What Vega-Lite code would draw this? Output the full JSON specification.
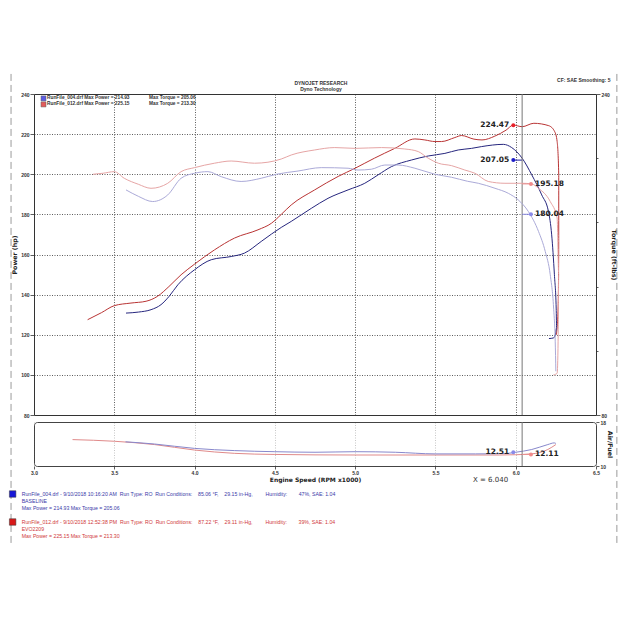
{
  "$schema": "https://vega.github.io/schema/vega-lite/v6.json",
  "background": "white",
  "padding": {"left": 8, "top": 72, "right": 5, "bottom": 5},
  "config": {
    "font": "DejaVu Sans",
    "view": {"stroke": "#333", "strokeWidth": 1},
    "axis": {
      "labelFont": "Liberation Sans", "labelFontSize": 5, "labelFontWeight": "bold", "labelColor": "#333", "labelOverlap": false,
      "titleFont": "DejaVu Sans", "titleFontSize": 6.3, "titleFontWeight": "bold", "titleColor": "#222",
      "tickColor": "#333", "tickWidth": 0.8, "domain": false,
      "gridColor": "#333", "gridDash": [1, 1.5], "gridWidth": 0.8
    }
  },
  "datasets": {
    "power": [
      {"run":"012","i":1,"rpm":3.334,"hp":127.5},{"run":"012","i":2,"rpm":3.42,"hp":131.0},{"run":"012","i":3,"rpm":3.5,"hp":134.5},
      {"run":"012","i":4,"rpm":3.604,"hp":135.8},{"run":"012","i":5,"rpm":3.698,"hp":136.7},{"run":"012","i":6,"rpm":3.77,"hp":139.2},
      {"run":"012","i":7,"rpm":3.84,"hp":144.0},{"run":"012","i":8,"rpm":3.916,"hp":149.9},{"run":"012","i":9,"rpm":4.0,"hp":155.2},
      {"run":"012","i":10,"rpm":4.124,"hp":162.3},{"run":"012","i":11,"rpm":4.249,"hp":168.2},{"run":"012","i":12,"rpm":4.395,"hp":172.3},
      {"run":"012","i":13,"rpm":4.479,"hp":175.6},{"run":"012","i":14,"rpm":4.54,"hp":180.0},{"run":"012","i":15,"rpm":4.602,"hp":184.7},
      {"run":"012","i":16,"rpm":4.748,"hp":192.2},{"run":"012","i":17,"rpm":4.894,"hp":198.9},{"run":"012","i":18,"rpm":5.0,"hp":203.0},
      {"run":"012","i":19,"rpm":5.12,"hp":208.0},{"run":"012","i":20,"rpm":5.247,"hp":212.9},{"run":"012","i":21,"rpm":5.372,"hp":217.6},
      {"run":"012","i":22,"rpm":5.434,"hp":217.1},{"run":"012","i":23,"rpm":5.497,"hp":216.3},{"run":"012","i":24,"rpm":5.538,"hp":216.3},
      {"run":"012","i":25,"rpm":5.621,"hp":218.3},{"run":"012","i":26,"rpm":5.663,"hp":219.3},{"run":"012","i":27,"rpm":5.74,"hp":217.5},
      {"run":"012","i":28,"rpm":5.79,"hp":217.1},{"run":"012","i":29,"rpm":5.87,"hp":219.0},{"run":"012","i":30,"rpm":5.94,"hp":222.0},
      {"run":"012","i":31,"rpm":5.985,"hp":224.5},{"run":"012","i":32,"rpm":6.04,"hp":223.7},{"run":"012","i":33,"rpm":6.113,"hp":225.4},
      {"run":"012","i":34,"rpm":6.206,"hp":224.2},{"run":"012","i":35,"rpm":6.243,"hp":221.2},{"run":"012","i":36,"rpm":6.258,"hp":216.3},
      {"run":"012","i":37,"rpm":6.268,"hp":199.7},{"run":"012","i":38,"rpm":6.268,"hp":166.5},{"run":"012","i":39,"rpm":6.264,"hp":133.3},
      {"run":"012","i":40,"rpm":6.253,"hp":120.0},
      {"run":"004","i":1,"rpm":3.573,"hp":130.8},{"run":"004","i":2,"rpm":3.65,"hp":131.3},{"run":"004","i":3,"rpm":3.729,"hp":132.5},
      {"run":"004","i":4,"rpm":3.791,"hp":135.0},{"run":"004","i":5,"rpm":3.84,"hp":139.0},{"run":"004","i":6,"rpm":3.896,"hp":144.9},
      {"run":"004","i":7,"rpm":4.0,"hp":152.4},{"run":"004","i":8,"rpm":4.104,"hp":157.4},{"run":"004","i":9,"rpm":4.228,"hp":159.0},
      {"run":"004","i":10,"rpm":4.311,"hp":160.7},{"run":"004","i":11,"rpm":4.415,"hp":166.5},{"run":"004","i":12,"rpm":4.479,"hp":170.2},
      {"run":"004","i":13,"rpm":4.54,"hp":173.5},{"run":"004","i":14,"rpm":4.602,"hp":176.5},{"run":"004","i":15,"rpm":4.727,"hp":183.0},
      {"run":"004","i":16,"rpm":4.831,"hp":188.0},{"run":"004","i":17,"rpm":4.956,"hp":192.2},{"run":"004","i":18,"rpm":5.06,"hp":195.5},
      {"run":"004","i":19,"rpm":5.143,"hp":199.7},{"run":"004","i":20,"rpm":5.226,"hp":203.8},{"run":"004","i":21,"rpm":5.351,"hp":207.1},
      {"run":"004","i":22,"rpm":5.455,"hp":209.1},{"run":"004","i":23,"rpm":5.559,"hp":210.4},{"run":"004","i":24,"rpm":5.642,"hp":212.1},
      {"run":"004","i":25,"rpm":5.725,"hp":212.9},{"run":"004","i":26,"rpm":5.788,"hp":213.8},{"run":"004","i":27,"rpm":5.923,"hp":214.9},
      {"run":"004","i":28,"rpm":5.975,"hp":213.3},{"run":"004","i":29,"rpm":6.04,"hp":208.0},{"run":"004","i":30,"rpm":6.1,"hp":199.7},
      {"run":"004","i":31,"rpm":6.162,"hp":189.7},{"run":"004","i":32,"rpm":6.204,"hp":181.4},{"run":"004","i":33,"rpm":6.224,"hp":169.8},
      {"run":"004","i":34,"rpm":6.241,"hp":149.9},{"run":"004","i":35,"rpm":6.252,"hp":133.3},{"run":"004","i":36,"rpm":6.255,"hp":123.4},
      {"run":"004","i":37,"rpm":6.245,"hp":119.5},{"run":"004","i":38,"rpm":6.235,"hp":118.4},{"run":"004","i":39,"rpm":6.207,"hp":118.1}
    ],
    "torque": [
      {"run":"012","i":1,"rpm":3.367,"tq":200.0},{"run":"012","i":2,"rpm":3.43,"tq":200.5},{"run":"012","i":3,"rpm":3.5,"tq":201.3},
      {"run":"012","i":4,"rpm":3.562,"tq":198.0},{"run":"012","i":5,"rpm":3.65,"tq":195.0},{"run":"012","i":6,"rpm":3.729,"tq":193.0},
      {"run":"012","i":7,"rpm":3.833,"tq":195.5},{"run":"012","i":8,"rpm":3.916,"tq":201.3},{"run":"012","i":9,"rpm":4.0,"tq":203.3},
      {"run":"012","i":10,"rpm":4.124,"tq":205.5},{"run":"012","i":11,"rpm":4.228,"tq":206.6},{"run":"012","i":12,"rpm":4.373,"tq":205.5},
      {"run":"012","i":13,"rpm":4.457,"tq":206.0},{"run":"012","i":14,"rpm":4.54,"tq":207.6},{"run":"012","i":15,"rpm":4.602,"tq":209.6},
      {"run":"012","i":16,"rpm":4.748,"tq":212.1},{"run":"012","i":17,"rpm":4.873,"tq":213.3},{"run":"012","i":18,"rpm":5.0,"tq":212.9},
      {"run":"012","i":19,"rpm":5.164,"tq":213.3},{"run":"012","i":20,"rpm":5.309,"tq":212.6},{"run":"012","i":21,"rpm":5.393,"tq":211.3},
      {"run":"012","i":22,"rpm":5.455,"tq":208.0},{"run":"012","i":23,"rpm":5.518,"tq":205.5},{"run":"012","i":24,"rpm":5.6,"tq":204.3},
      {"run":"012","i":25,"rpm":5.683,"tq":202.1},{"run":"012","i":26,"rpm":5.746,"tq":200.5},{"run":"012","i":27,"rpm":5.829,"tq":196.4},
      {"run":"012","i":28,"rpm":5.933,"tq":195.5},{"run":"012","i":29,"rpm":6.04,"tq":195.5},{"run":"012","i":30,"rpm":6.098,"tq":195.2},
      {"run":"012","i":31,"rpm":6.142,"tq":193.0},{"run":"012","i":32,"rpm":6.215,"tq":186.4},{"run":"012","i":33,"rpm":6.258,"tq":178.1},
      {"run":"012","i":34,"rpm":6.268,"tq":149.9},{"run":"012","i":35,"rpm":6.264,"tq":116.8},{"run":"012","i":36,"rpm":6.258,"tq":100.8},
      {"run":"012","i":37,"rpm":6.235,"tq":100.0},
      {"run":"004","i":1,"rpm":3.573,"tq":192.2},{"run":"004","i":2,"rpm":3.65,"tq":189.0},{"run":"004","i":3,"rpm":3.739,"tq":186.4},
      {"run":"004","i":4,"rpm":3.833,"tq":189.7},{"run":"004","i":5,"rpm":3.916,"tq":198.0},{"run":"004","i":6,"rpm":4.0,"tq":200.5},
      {"run":"004","i":7,"rpm":4.083,"tq":201.3},{"run":"004","i":8,"rpm":4.166,"tq":198.8},{"run":"004","i":9,"rpm":4.29,"tq":196.4},
      {"run":"004","i":10,"rpm":4.415,"tq":198.0},{"run":"004","i":11,"rpm":4.51,"tq":200.0},{"run":"004","i":12,"rpm":4.644,"tq":201.6},
      {"run":"004","i":13,"rpm":4.789,"tq":203.3},{"run":"004","i":14,"rpm":4.956,"tq":203.0},{"run":"004","i":15,"rpm":5.018,"tq":202.1},
      {"run":"004","i":16,"rpm":5.101,"tq":202.5},{"run":"004","i":17,"rpm":5.185,"tq":204.6},{"run":"004","i":18,"rpm":5.268,"tq":204.6},
      {"run":"004","i":19,"rpm":5.372,"tq":203.0},{"run":"004","i":20,"rpm":5.497,"tq":200.0},{"run":"004","i":21,"rpm":5.6,"tq":198.5},
      {"run":"004","i":22,"rpm":5.7,"tq":196.5},{"run":"004","i":23,"rpm":5.767,"tq":195.5},{"run":"004","i":24,"rpm":5.871,"tq":193.0},
      {"run":"004","i":25,"rpm":5.954,"tq":190.5},{"run":"004","i":26,"rpm":6.016,"tq":187.2},{"run":"004","i":27,"rpm":6.079,"tq":181.4},
      {"run":"004","i":28,"rpm":6.142,"tq":171.5},{"run":"004","i":29,"rpm":6.184,"tq":161.5},{"run":"004","i":30,"rpm":6.215,"tq":149.9},
      {"run":"004","i":31,"rpm":6.236,"tq":133.3},{"run":"004","i":32,"rpm":6.246,"tq":116.8},{"run":"004","i":33,"rpm":6.25,"tq":101.8}
    ],
    "afr": [
      {"run":"012","i":1,"rpm":3.24,"afr":14.8},{"run":"012","i":2,"rpm":3.5,"afr":14.5},{"run":"012","i":3,"rpm":3.75,"afr":13.9},
      {"run":"012","i":4,"rpm":4.0,"afr":12.9},{"run":"012","i":5,"rpm":4.25,"afr":12.3},{"run":"012","i":6,"rpm":4.5,"afr":12.1},
      {"run":"012","i":7,"rpm":5.0,"afr":12.0},{"run":"012","i":8,"rpm":5.5,"afr":12.0},{"run":"012","i":9,"rpm":5.9,"afr":12.0},
      {"run":"012","i":10,"rpm":6.0,"afr":12.05},{"run":"012","i":11,"rpm":6.1,"afr":12.2},{"run":"012","i":12,"rpm":6.2,"afr":13.0},
      {"run":"012","i":13,"rpm":6.25,"afr":13.9},
      {"run":"004","i":1,"rpm":3.57,"afr":14.4},{"run":"004","i":2,"rpm":3.75,"afr":14.0},{"run":"004","i":3,"rpm":4.0,"afr":13.2},
      {"run":"004","i":4,"rpm":4.25,"afr":12.8},{"run":"004","i":5,"rpm":4.5,"afr":12.6},{"run":"004","i":6,"rpm":4.75,"afr":12.5},
      {"run":"004","i":7,"rpm":5.0,"afr":12.6},{"run":"004","i":8,"rpm":5.25,"afr":12.5},{"run":"004","i":9,"rpm":5.5,"afr":12.2},
      {"run":"004","i":10,"rpm":5.75,"afr":12.2},{"run":"004","i":11,"rpm":5.95,"afr":12.3},{"run":"004","i":12,"rpm":6.0,"afr":12.5},
      {"run":"004","i":13,"rpm":6.1,"afr":13.0},{"run":"004","i":14,"rpm":6.2,"afr":13.9},{"run":"004","i":15,"rpm":6.24,"afr":14.2},
      {"run":"004","i":16,"rpm":6.25,"afr":14.1}
    ],
    "cursorPower": [{"run":"012","v":224.47},{"run":"004","v":207.05}],
    "cursorTorque": [{"run":"012","v":195.18},{"run":"004","v":180.04}],
    "runs": [
      {"run":"004","power":"RunFile_004.drf Max Power = 214.93","torque":"Max Torque = 205.06"},
      {"run":"012","power":"RunFile_012.drf Max Power = 225.15","torque":"Max Torque = 213.30"}
    ],
    "header": [
      {"line":"title","text":"DYNOJET RESEARCH"},
      {"line":"sub","text":"Dyno Technology"},
      {"line":"cf","text":"CF: SAE Smoothing: 5"}
    ],
    "notes": [
      {"run":"004","line":"b1","text":"RunFile_004.drf - 9/10/2018 10:16:20 AM\u00a0\u00a0Run Type: RO\u00a0\u00a0Run Conditions:\u00a0\u00a0\u00a0\u00a085.06 °F,\u00a0\u00a0\u00a0\u00a029.15 in-Hg,\u00a0\u00a0\u00a0\u00a0\u00a0\u00a0\u00a0\u00a0\u00a0Humidity:\u00a0\u00a0\u00a0\u00a0\u00a0\u00a0\u00a0\u00a047%, SAE: 1.04"},
      {"run":"004","line":"b2","text":"BASELINE"},
      {"run":"004","line":"b3","text":"Max Power = 214.93\u00a0Max Torque = 205.06"},
      {"run":"012","line":"r1","text":"RunFile_012.drf - 9/10/2018 12:52:38 PM\u00a0\u00a0Run Type: RO\u00a0\u00a0Run Conditions:\u00a0\u00a0\u00a0\u00a087.22 °F,\u00a0\u00a0\u00a0\u00a029.11 in-Hg,\u00a0\u00a0\u00a0\u00a0\u00a0\u00a0\u00a0\u00a0\u00a0Humidity:\u00a0\u00a0\u00a0\u00a0\u00a0\u00a0\u00a0\u00a039%, SAE: 1.04"},
      {"run":"012","line":"r2","text":"EVO2209"},
      {"run":"012","line":"r3","text":"Max Power = 225.15\u00a0Max Torque = 213.30"}
    ]
  },
  "bounds": "flush",
  "spacing": 7,
  "resolve": {"scale": {"x": "independent", "y": "independent"}},
  "vconcat": [
    {
      "width": 562,
      "height": 321,
      "resolve": {"scale": {"y": "independent"}, "axis": {"y": "independent"}},
      "layer": [
        {
          "layer": [
            {
              "data": {"name": "power"},
              "mark": {"type": "line", "strokeWidth": 1, "interpolate": "monotone"},
              "encoding": {
                "x": {"field": "rpm", "type": "quantitative", "scale": {"domain": [3.0, 6.5], "nice": false, "zero": false},
                  "axis": {"values": [3.5, 4.0, 4.5, 5.0, 5.5, 6.0], "labels": false, "ticks": false, "grid": true, "title": null}},
                "y": {"field": "hp", "type": "quantitative", "scale": {"domain": [80, 240], "nice": false, "zero": false},
                  "axis": {"orient": "left", "title": "Power (hp)", "titlePadding": 3, "labelPadding": 1, "labelOverlap": false,
                    "values": [80,85,90,95,100,105,110,115,120,125,130,135,140,145,150,155,160,165,170,175,180,185,190,195,200,205,210,215,220,225,230,235,240],
                    "labelExpr": "datum.value % 20 === 0 ? datum.label : ''",
                    "tickSize": {"condition": {"test": "datum.value % 20 === 0", "value": 4}, "value": 2},
                    "gridOpacity": {"condition": {"test": "datum.value % 20 === 0 && datum.value > 80 && datum.value < 240", "value": 1}, "value": 0}}},
                "detail": {"field": "run"},
                "order": {"field": "i"},
                "color": {"condition": {"test": "datum.run === '004'", "value": "#26267e"}, "value": "#b93434"}
              }
            },
            {
              "data": {"name": "cursorPower"},
              "transform": [{"filter": "datum.run === '004'"}],
              "mark": {"type": "rule", "color": "#1c1c9c", "strokeWidth": 1},
              "encoding": {"x": {"datum": 5.985}, "x2": {"datum": 6.04}, "y": {"field": "v", "type": "quantitative"}}
            },
            {
              "data": {"name": "cursorPower"},
              "mark": {"type": "circle", "size": 16, "opacity": 1},
              "encoding": {"x": {"datum": 5.985}, "y": {"field": "v", "type": "quantitative"},
                "color": {"condition": {"test": "datum.run === '004'", "value": "#1c1cc8"}, "value": "#e8202a"}}
            },
            {
              "data": {"name": "cursorPower"},
              "mark": {"type": "text", "align": "right", "baseline": "middle", "dx": -4, "fontSize": 7.5, "fontWeight": "bold", "font": "DejaVu Sans", "color": "#222"},
              "encoding": {"x": {"datum": 5.985}, "y": {"field": "v", "type": "quantitative"}, "text": {"field": "v", "type": "quantitative", "format": ".2f"}}
            },
            {
              "data": {"name": "runs"},
              "transform": [{"filter": "datum.run === '004'"}],
              "layer": [
                {"mark": {"type": "square", "size": 25, "filled": true, "color": "#1818d8", "stroke": "#222", "strokeWidth": 0.5},
                 "encoding": {"x": {"datum": 3.059}, "y": {"datum": 237.8}}},
                {"mark": {"type": "text", "align": "left", "baseline": "middle", "font": "Liberation Sans", "fontSize": 4.8, "fontWeight": "bold", "color": "#333"},
                 "encoding": {"x": {"datum": 3.081}, "y": {"datum": 237.8}, "text": {"field": "power"}}},
                {"mark": {"type": "text", "align": "left", "baseline": "middle", "font": "Liberation Sans", "fontSize": 4.8, "fontWeight": "bold", "color": "#333"},
                 "encoding": {"x": {"datum": 3.716}, "y": {"datum": 237.8}, "text": {"field": "torque"}}}
              ]
            },
            {
              "data": {"name": "runs"},
              "transform": [{"filter": "datum.run === '012'"}],
              "layer": [
                {"mark": {"type": "square", "size": 25, "filled": true, "color": "#d81818", "stroke": "#222", "strokeWidth": 0.5},
                 "encoding": {"x": {"datum": 3.059}, "y": {"datum": 234.8}}},
                {"mark": {"type": "text", "align": "left", "baseline": "middle", "font": "Liberation Sans", "fontSize": 4.8, "fontWeight": "bold", "color": "#333"},
                 "encoding": {"x": {"datum": 3.081}, "y": {"datum": 234.8}, "text": {"field": "power"}}},
                {"mark": {"type": "text", "align": "left", "baseline": "middle", "font": "Liberation Sans", "fontSize": 4.8, "fontWeight": "bold", "color": "#333"},
                 "encoding": {"x": {"datum": 3.716}, "y": {"datum": 234.8}, "text": {"field": "torque"}}}
              ]
            },
            {
              "data": {"name": "header"},
              "transform": [{"filter": "datum.line === 'title'"}],
              "mark": {"type": "text", "align": "center", "baseline": "middle", "dy": -11, "font": "Liberation Sans", "fontSize": 5, "fontWeight": "bold", "color": "#333"},
              "encoding": {"x": {"datum": 4.787}, "y": {"datum": 240}, "text": {"field": "text"}}
            },
            {
              "data": {"name": "header"},
              "transform": [{"filter": "datum.line === 'sub'"}],
              "mark": {"type": "text", "align": "center", "baseline": "middle", "dy": -5, "font": "Liberation Sans", "fontSize": 5, "fontWeight": "bold", "color": "#333"},
              "encoding": {"x": {"datum": 4.787}, "y": {"datum": 240}, "text": {"field": "text"}}
            },
            {
              "data": {"name": "header"},
              "transform": [{"filter": "datum.line === 'cf'"}],
              "mark": {"type": "text", "align": "right", "baseline": "middle", "dy": -14, "font": "Liberation Sans", "fontSize": 5, "fontWeight": "bold", "color": "#333"},
              "encoding": {"x": {"datum": 6.59}, "y": {"datum": 240}, "text": {"field": "text"}}
            },
            {
              "data": {"values": [{"side": "left", "rpm": 2.857}, {"side": "right", "rpm": 6.63}]},
              "mark": {"type": "rule", "color": "#9a9a9a", "strokeWidth": 1, "strokeDash": [7, 4], "clip": false},
              "encoding": {"x": {"field": "rpm", "type": "quantitative"}, "y": {"datum": 250}, "y2": {"datum": 16}}
            },
            {
              "data": {"values": [{"rpm": 6.04}]},
              "mark": {"type": "rule", "color": "#777", "strokeWidth": 1},
              "encoding": {"x": {"field": "rpm", "type": "quantitative"}}
            }
          ]
        },
        {
          "layer": [
            {
              "data": {"name": "torque"},
              "mark": {"type": "line", "strokeWidth": 1, "interpolate": "monotone"},
              "encoding": {
                "x": {"field": "rpm", "type": "quantitative"},
                "y": {"field": "tq", "type": "quantitative", "scale": {"domain": [80, 240], "nice": false, "zero": false},
                  "axis": {"orient": "right", "title": "Torque (ft-lbs)", "titlePadding": 1, "labelPadding": 1, "grid": false, "labelOverlap": false,
                    "values": [80,84,88,92,96,100,104,108,112,116,120,124,128,132,136,140,144,148,152,156,160,164,168,172,176,180,184,188,192,196,200,204,208,212,216,220,224,228,232,236,240],
                    "labelExpr": "datum.value % 20 === 0 ? datum.label : ''",
                    "tickSize": {"condition": {"test": "datum.value % 20 === 0", "value": 4}, "value": 2}}},
                "detail": {"field": "run"},
                "order": {"field": "i"},
                "color": {"condition": {"test": "datum.run === '004'", "value": "#abaad8"}, "value": "#e6a5a5"}
              }
            },
            {
              "data": {"name": "cursorTorque"},
              "mark": {"type": "rule", "strokeWidth": 1},
              "encoding": {"x": {"datum": 6.04}, "x2": {"datum": 6.095}, "y": {"field": "v", "type": "quantitative"},
                "color": {"condition": {"test": "datum.run === '004'", "value": "#8a8ae0"}, "value": "#e89090"}}
            },
            {
              "data": {"name": "cursorTorque"},
              "mark": {"type": "circle", "size": 16, "opacity": 1},
              "encoding": {"x": {"datum": 6.095}, "y": {"field": "v", "type": "quantitative"},
                "color": {"condition": {"test": "datum.run === '004'", "value": "#8a8ae8"}, "value": "#f08a8a"}}
            },
            {
              "data": {"name": "cursorTorque"},
              "mark": {"type": "text", "align": "left", "baseline": "middle", "dx": 4, "fontSize": 7.5, "fontWeight": "bold", "font": "DejaVu Sans", "color": "#222"},
              "encoding": {"x": {"datum": 6.095}, "y": {"field": "v", "type": "quantitative"}, "text": {"field": "v", "type": "quantitative", "format": ".2f"}}
            }
          ]
        }
      ]
    },
    {
      "width": 562,
      "height": 44,
      "view": {"stroke": "#444", "cornerRadius": 3},
      "layer": [
        {
          "data": {"name": "afr"},
          "mark": {"type": "line", "strokeWidth": 1, "interpolate": "monotone"},
          "encoding": {
            "x": {"field": "rpm", "type": "quantitative", "scale": {"domain": [3.0, 6.5], "nice": false, "zero": false},
              "axis": {"title": "Engine Speed (RPM x1000)", "titleFontSize": 6, "titlePadding": 1, "labelPadding": 1,
                "labelOverlap": false, "labelFlush": false, "format": ".1f", "tickSize": 3,
                "values": [3.0, 3.5, 4.0, 4.5, 5.0, 5.5, 6.0, 6.5],
                "gridOpacity": 0.35}},
            "y": {"field": "afr", "type": "quantitative", "scale": {"domain": [10, 18], "nice": false, "zero": false},
              "axis": {"orient": "right", "title": "Air/Fuel", "titlePadding": 1, "labelPadding": 1, "labelOverlap": false, "tickSize": 3,
                "values": [10, 12, 14, 16, 18],
                "gridOpacity": {"condition": {"test": "datum.value > 10 && datum.value < 18", "value": 1}, "value": 0}}},
            "detail": {"field": "run"},
            "order": {"field": "i"},
            "color": {"condition": {"test": "datum.run === '004'", "value": "#8888cc"}, "value": "#e08a8a"}
          }
        },
        {
          "data": {"values": [{"rpm": 6.04}]},
          "mark": {"type": "rule", "color": "#777", "strokeWidth": 1},
          "encoding": {"x": {"field": "rpm", "type": "quantitative"}}
        },
        {
          "data": {"values": [{"run": "004", "v": 12.51}]},
          "layer": [
            {"mark": {"type": "circle", "size": 16, "opacity": 1, "color": "#8a8ae8"},
             "encoding": {"x": {"datum": 5.985}, "y": {"field": "v", "type": "quantitative"}}},
            {"mark": {"type": "text", "align": "right", "baseline": "middle", "dx": -4, "fontSize": 7.5, "fontWeight": "bold", "color": "#222"},
             "encoding": {"x": {"datum": 5.985}, "y": {"field": "v", "type": "quantitative"}, "text": {"field": "v", "type": "quantitative", "format": ".2f"}}}
          ]
        },
        {
          "data": {"values": [{"run": "012", "v": 12.11}]},
          "layer": [
            {"mark": {"type": "rule", "color": "#e89090", "strokeWidth": 1},
             "encoding": {"x": {"datum": 6.04}, "x2": {"datum": 6.095}, "y": {"field": "v", "type": "quantitative"}}},
            {"mark": {"type": "circle", "size": 16, "opacity": 1, "color": "#f08a8a"},
             "encoding": {"x": {"datum": 6.095}, "y": {"field": "v", "type": "quantitative"}}},
            {"mark": {"type": "text", "align": "left", "baseline": "middle", "dx": 4, "fontSize": 7.5, "fontWeight": "bold", "color": "#222"},
             "encoding": {"x": {"datum": 6.095}, "y": {"field": "v", "type": "quantitative"}, "text": {"field": "v", "type": "quantitative", "format": ".2f"}}}
          ]
        },
        {
          "data": {"values": [{"label": "X = 6.040"}]},
          "mark": {"type": "text", "align": "right", "baseline": "middle", "dx": -14, "dy": 14, "fontSize": 7, "color": "#333"},
          "encoding": {"x": {"datum": 6.04}, "y": {"datum": 10}, "text": {"field": "label"}}
        }
      ]
    },
    {
      "width": 562,
      "height": 63,
      "view": {"stroke": null},
      "data": {"name": "notes"},
      "layer": [
        {
          "transform": [{"filter": "datum.line === 'b1' || datum.line === 'r1'"}],
          "mark": {"type": "square", "size": 42, "filled": true, "opacity": 1, "stroke": "#333", "strokeWidth": 0.5},
          "encoding": {
            "x": {"datum": 2.867, "scale": {"domain": [3.0, 6.5], "nice": false, "zero": false}, "axis": null},
            "y": {"field": "line", "type": "ordinal", "scale": {"type": "point", "domain": ["s0","s1","s2","b1","b2","b3","gap","r1","r2","r3"], "padding": 0}, "axis": null},
            "color": {"condition": {"test": "datum.run === '004'", "value": "#1818d8"}, "value": "#d81818"}
          }
        },
        {
          "mark": {"type": "text", "align": "left", "baseline": "middle", "font": "Liberation Sans", "fontSize": 5.2},
          "encoding": {
            "x": {"datum": 2.923},
            "y": {"field": "line", "type": "ordinal"},
            "text": {"field": "text"},
            "color": {"condition": {"test": "datum.run === '004'", "value": "#3a3aa8"}, "value": "#d03a3a"}
          }
        }
      ]
    }
  ]
}
